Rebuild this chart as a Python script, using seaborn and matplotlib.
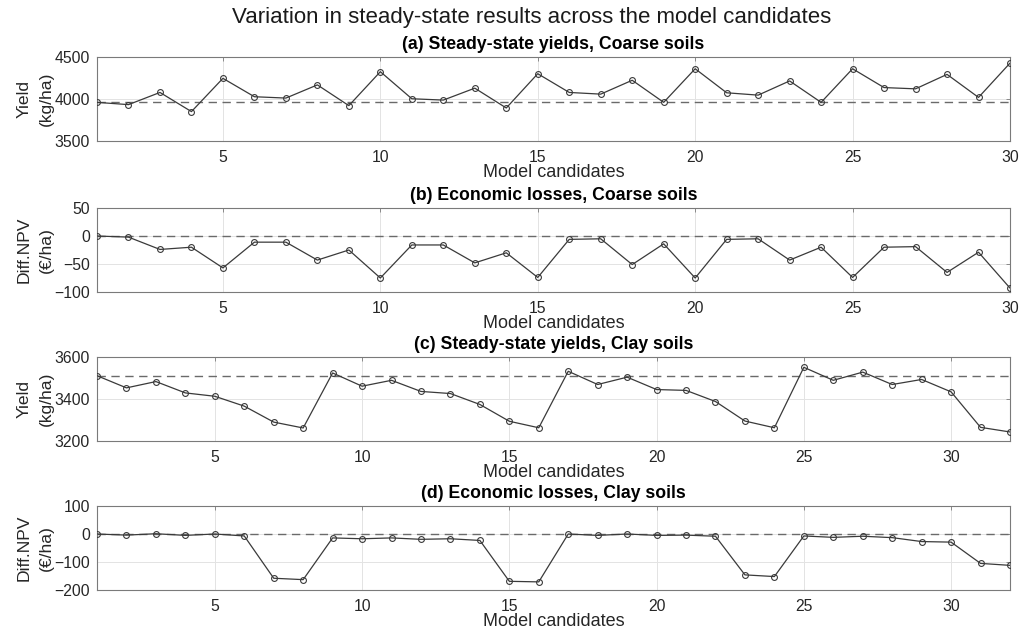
import matplotlib
matplotlib.use("Agg")
import matplotlib.pyplot as plt
import seaborn as sns
import numpy as np
import pandas as pd

# ---------------- data ----------------
suptitle = "Variation in steady-state results across the model candidates"
panel_titles = ["(a) Steady-state yields, Coarse soils",
                "(b) Economic losses, Coarse soils",
                "(c) Steady-state yields, Clay soils",
                "(d) Economic losses, Clay soils"]
y_labels = ["Yield\n(kg/ha)", "Diff.NPV\n(€/ha)", "Yield\n(kg/ha)", "Diff.NPV\n(€/ha)"]
x_label = "Model candidates"

yield_coarse = [3960, 3933, 4078, 3850, 4246, 4027, 4011, 4168, 3921, 4325,
                4003, 3987, 4129, 3893, 4301, 4078, 4058, 4223, 3960, 4360,
                4074, 4046, 4215, 3960, 4360, 4136, 4121, 4293, 4019, 4427]
npv_coarse = [0, -2, -24, -20, -57, -11, -11, -43, -25, -75,
              -16, -16, -48, -30, -74, -6, -5, -51, -14, -75,
              -6, -5, -43, -20, -74, -20, -19, -65, -29, -93]
yield_clay = [3511, 3453, 3483, 3429, 3413, 3366, 3290, 3262, 3524, 3461,
              3489, 3436, 3426, 3374, 3294, 3263, 3532, 3469, 3504, 3445,
              3441, 3388, 3295, 3263, 3551, 3489, 3528, 3469, 3493, 3434,
              3265, 3243]
npv_clay = [0, -4, 1, -5, 0, -7, -158, -163, -14, -17,
            -14, -19, -17, -23, -169, -171, 0, -5, 0, -5,
            -4, -8, -146, -152, -7, -12, -8, -13, -27, -29,
            -105, -112]

reference_values = [3960, 0, 3508, 0]
x_ticks = [5, 10, 15, 20, 25, 30]
y_ticks = [[3500, 4000, 4500], [-100, -50, 0, 50], [3200, 3400, 3600], [-200, -100, 0, 100]]

series = [yield_coarse, npv_coarse, yield_clay, npv_clay]

# ---------------- style ----------------
sns.set_theme(style="white")
plt.rcParams['font.family'] = ['Liberation Sans', 'DejaVu Sans']

W, H = 1021, 633
fig = plt.figure(figsize=(W / 100, H / 100), dpi=100)

left_px, right_px = 97, 1010
tops_px = [57, 208, 357, 506]
height_px = 84

line_col = "#3a3a3a"
frame_col = "#7a7a7a"
tick_col = "#262626"

for i in range(4):
    vals = series[i]
    n = len(vals)
    df = pd.DataFrame({"candidate": np.arange(1, n + 1), "value": vals})
    ax = fig.add_axes([left_px / W, 1 - (tops_px[i] + height_px) / H,
                       (right_px - left_px) / W, height_px / H])
    ax.axhline(reference_values[i], color="#6a6a6a", linestyle=(0, (6, 4)),
               linewidth=1.0, zorder=1)
    sns.lineplot(data=df, x="candidate", y="value", ax=ax, color=line_col,
                 linewidth=0.9, marker="o", markersize=4.2,
                 markerfacecolor="none", markeredgecolor=line_col,
                 markeredgewidth=0.8, zorder=3)
    ax.set_xlim(1, n)
    ax.set_ylim(y_ticks[i][0], y_ticks[i][-1])
    ax.set_xticks(x_ticks)
    ax.set_yticks(y_ticks[i])
    ax.grid(True, color="#e3e3e3", linewidth=0.7)
    ax.set_axisbelow(True)
    for sp in ax.spines.values():
        sp.set_visible(True)
        sp.set_color(frame_col)
        sp.set_linewidth(0.8)
    ax.tick_params(axis="both", direction="in", length=3, width=0.6,
                   color=frame_col, labelsize=11.3, labelcolor=tick_col,
                   top=True, right=True, pad=5)
    ax.tick_params(axis="x", pad=6.5)
    ax.set_xlabel(x_label, fontsize=13, color=tick_col, labelpad=-1)
    ax.set_ylabel(y_labels[i], fontsize=12.6, color=tick_col, linespacing=1.6)
    ax.yaxis.set_label_coords(-0.047, 0.5)
    ax.set_title(panel_titles[i], fontsize=12.7, fontweight="bold",
                 color="black", pad=6)

fig.text(532 / W, 1 - 18 / H, suptitle,
         ha="center", va="center", fontsize=16, color="#1a1a1a")

fig.savefig("out.png", dpi=100)
